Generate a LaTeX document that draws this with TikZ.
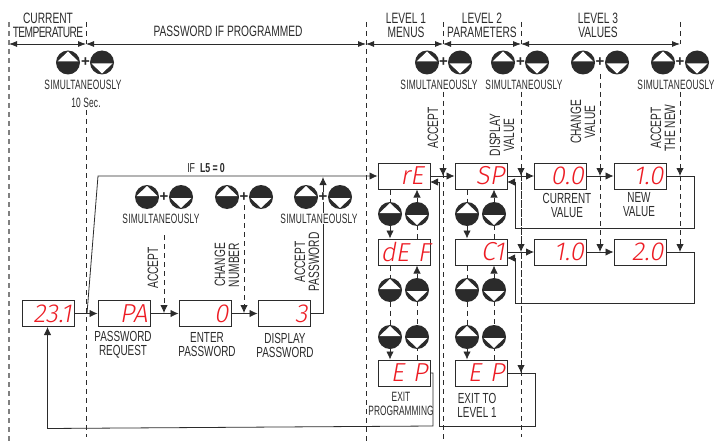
\documentclass[tikz,border=0pt]{standalone}
\usepackage{fontspec}
\setmainfont[FakeStretch=0.68]{Liberation Sans}
\newfontfamily\simulfont[FakeStretch=0.62]{Liberation Sans}
\newfontfamily\plainfont{Liberation Sans}
\newfontfamily\segfont[FakeSlant=0.18,FakeStretch=1.0]{Fira Sans Light}
\usetikzlibrary{arrows.meta}
\usepackage{xcolor}
\definecolor{ink}{HTML}{2B2B2B}
\definecolor{segred}{HTML}{ED1C24}

\begin{document}
\begin{tikzpicture}[
  x=1pt,y=-1pt,
  >=Latex,
  line width=0.8pt,
  flow/.style={draw=ink,-{Latex[length=8pt,width=7.5pt]}},
  span/.style={draw=ink,{Latex[length=8pt,width=6pt]}-{Latex[length=8pt,width=6pt]}},
  guide/.style={draw=ink,dash pattern=on 5pt off 4pt},
  guidehead/.style={guide,-{Latex[length=8pt,width=7.5pt]}},
  edgeguide/.style={draw=black!50,line width=1.4pt,dash pattern=on 5pt off 4pt},
  display/.style={draw=ink,line width=1pt,fill=white,minimum width=52pt,minimum height=26pt,
                  inner sep=0pt,text width=47pt,align=right,text=segred,
                  font=\segfont\fontsize{26}{26}\selectfont},
  head/.style={align=center,text=ink,inner sep=0pt,font=\fontsize{15}{14}\selectfont},
  caption/.style={align=center,text=ink,inner sep=0pt,font=\fontsize{14.6}{14}\selectfont},
  sideways/.style={caption,rotate=90,font=\fontsize{15}{14}\selectfont},
  simul/.style={text=ink,fill=white,inner sep=1pt,font=\simulfont\fontsize{13.5}{13.5}\selectfont\addfontfeature{LetterSpace=1.5}},
  upkey/.style={circle,fill=ink,minimum size=24pt,inner sep=0pt,
    path picture={\fill[white] (path picture bounding box.center) ++(-10.5pt,1pt)
      -- ++(21pt,0pt) -- ++(-10.5pt,10pt) -- cycle;}},
  downkey/.style={circle,fill=ink,minimum size=24pt,inner sep=0pt,
    path picture={\fill[white] (path picture bounding box.center) ++(-10.5pt,-1pt)
      -- ++(21pt,0pt) -- ++(-10.5pt,-10pt) -- cycle;}},
  plus/.style={fill=white,text=ink,inner sep=0.5pt,font=\plainfont\bfseries\fontsize{15}{15}\selectfont}
]
\useasboundingbox (0,0) rectangle (714,441);

% section limits
\coordinate (limA) at (9,44);
\coordinate (limB) at (86,44);
\coordinate (limC) at (366,44);
\coordinate (limD) at (443,44);
\coordinate (limE) at (521,44);
\coordinate (limF) at (680,44);

\draw[edgeguide] (9,22) -- (9,441);
\draw[guide] (86,22) -- (limB);
\draw[guide] (86,110) -- (86,437);
\draw[guide] (366,22) -- (366,441);
\draw[guide] (443,22) -- (limD);
\draw[guide] (521,22) -- (limE);
\draw[guide] (680,22) -- (limF);
\draw[guide] (443,92) -- (443,441);
\draw[guide] (521,92) -- (521,437);
\draw[guidehead] (443,92) -- (443,176);
\draw[guidehead] (521,92) -- (521,176);
\draw[guidehead] (521,176) -- (521,252);
\draw[guidehead] (521,252) -- (521,373);
\draw[guidehead] (600,74) -- (600,176);
\draw[guidehead] (600,176) -- (600,252);
\draw[guidehead] (680,92) -- (680,176);
\draw[guidehead] (680,176) -- (680,252);
\draw[guidehead] (164,235) -- (164,313);
\draw[guidehead] (244,205) -- (244,313);

\draw[span] (limA) -- (limB);
\draw[span] (limB) -- (limC);
\draw[span] (limC) -- (limD);
\draw[span] (limD) -- (limE);
\draw[span] (limE) -- (limF);

% displays
\node[display] (temp) at (48,313.5) {23.1};
\node[display] (request) at (124,313.5) {PA};
\node[display] (enter) at (205,313.5) {0};
\node[display] (shown) at (284,313.5) {3};
\node[display] (menuRe) at (404,176) {rE\kern4pt};
\node[display] (menuDef) at (404,252) {dE~F};
\node[display] (menuExit) at (404,373) {E~P};
\node[display] (paramSp) at (481,176) {SP};
\node[display] (paramCi) at (481,252) {C1};
\node[display] (paramExit) at (481,373) {E~P};
\node[display] (valOld) at (560.5,176) {0.0};
\node[display] (valNew) at (640,176) {1.0};
\node[display] (valOldB) at (560.5,252) {1.0};
\node[display] (valNewB) at (640,252) {2.0};

\coordinate (branch) at (87,313.5);
\coordinate (corner) at (98,176);

% main flow
\draw[flow] (temp) -- (request);
\draw[flow] (request) -- (enter);
\draw[flow] (enter) -- (shown);
\draw[flow] (branch) -- (corner) -- (menuRe);
\draw[flow] (shown.east) -- (323,313.5) -- (323,177);
\draw[flow] (menuRe) -- (paramSp);
\draw[flow] (paramSp) -- (valOld);
\draw[flow] (valOld) -- (valNew);
\draw[flow] (paramCi) -- (valOldB);
\draw[flow] (valOldB) -- (valNewB);

% returns
\draw[flow] (valNew.east) -- (694,176) -- (694,228) -- (515,228) -- (515,182) -- (507,182);
\draw[flow] (valNewB.east) -- (694,252) -- (694,303) -- (515,303) -- (515,258) -- (507,258);
\draw[flow] (paramExit.east) -- (535,373) -- (535,426) -- (439,426) -- (439,182) -- (430,182);
\draw[flow] (menuExit.east) -- (433,373) -- (433,426) -- (47.5,428.5) -- (temp.south -| 47.5,0);

% column keys
\draw[guidehead] (menuRe.south -| 390,0) -- (menuDef.north -| 390,0);
\draw[guidehead] (menuDef.north -| 417,0) -- (menuRe.south -| 417,0);
\draw[guidehead] (menuDef.south -| 390,0) -- (menuExit.north -| 390,0);
\draw[guidehead] (menuExit.north -| 417,0) -- (menuDef.south -| 417,0);
\draw[guidehead] (paramSp.south -| 467,0) -- (paramCi.north -| 467,0);
\draw[guidehead] (paramCi.north -| 494,0) -- (paramSp.south -| 494,0);
\draw[guidehead] (paramCi.south -| 467,0) -- (paramExit.north -| 467,0);
\draw[guidehead] (paramExit.north -| 494,0) -- (paramCi.south -| 494,0);

\foreach \nm/\xa/\xb/\ya in {a/390/417/214,b/390/417/290,c/390/417/337,
                             d/467/494/214,e/467/494/290,f/467/494/337}{
  \node[upkey] (up\nm) at (\xa,\ya) {};
  \node[downkey] (down\nm) at (\xb,\ya) {};
}

% key pairs with plus
\foreach \nm/\xa/\xm/\xb/\ya in {g/68/85.5/102/62.5,h/427/443.5/460/62.5,i/503/520.5/537/62.5,
                                 j/583/600/617/62.5,k/663/680/697/62.5,
                                 l/147/164/181/197,m/227/244/261/197,n/306/323/340/197}{
  \node[upkey] (up\nm) at (\xa,\ya) {};
  \node[downkey] (down\nm) at (\xb,\ya) {};
  \node[plus] (plus\nm) at (\xm,\ya) {+};
}

\node[simul] (simulG) at (83,85) {SIMULTANEOUSLY};
\node[simul] (simulH) at (439,85) {SIMULTANEOUSLY};
\node[simul] (simulI) at (524,85) {SIMULTANEOUSLY};
\node[simul] (simulK) at (676,85) {SIMULTANEOUSLY};
\node[simul] (simulL) at (161,218.5) {SIMULTANEOUSLY};
\node[simul] (simulN) at (319,218.5) {SIMULTANEOUSLY};
\node[simul] (tenSec) at (86,103) {10 Sec.};

% headings
\node[head] (hdCurrent) at (48,25) {CURRENT\\{\addfontfeature{LetterSpace=-4}TEMPERATURE}};
\node[head] (hdPassword) at (228,31) {PASSWORD IF PROGRAMMED};
\node[head] (hdOne) at (406,25) {LEVEL 1\\MENUS};
\node[head] (hdTwo) at (482,25) {LEVEL 2\\PARAMETERS};
\node[head] (hdThree) at (598,25) {LEVEL 3\\VALUES};
\node[caption,font=\fontsize{13}{14}\selectfont] (ifLabel) at (206,168)
  {IF\ \ \textbf{L5\,=\,0}};

% captions
\node[caption] (capRequest) at (123,345) {PASSWORD\\REQUEST};
\node[caption] (capEnter) at (207,345) {ENTER\\PASSWORD};
\node[caption] (capShown) at (285,345) {DISPLAY\\PASSWORD};
\node[caption] (capOld) at (567,205) {CURRENT\\VALUE};
\node[caption] (capNew) at (639,205) {NEW\\VALUE};
\node[caption,font=\simulfont\fontsize{13.5}{14}\selectfont] (capExitA) at (401,404) {EXIT\\PROGRAMMING};
\node[caption] (capExitB) at (477,405) {EXIT TO\\LEVEL 1};

\node[sideways] (sdAcceptA) at (153,268) {ACCEPT};
\node[sideways] (sdChangeA) at (227,265) {CHANGE\\NUMBER};
\node[sideways] (sdAcceptB) at (307,262) {ACCEPT\\PASSWORD};
\node[sideways] (sdAcceptC) at (433,128) {ACCEPT};
\node[sideways] (sdDisplay) at (502,135) {DISPLAY\\VALUE};
\node[sideways] (sdChangeB) at (583,122) {CHANGE\\VALUE};
\node[sideways] (sdAcceptD) at (663,128) {ACCEPT\\THE NEW};
\end{tikzpicture}
\end{document}
